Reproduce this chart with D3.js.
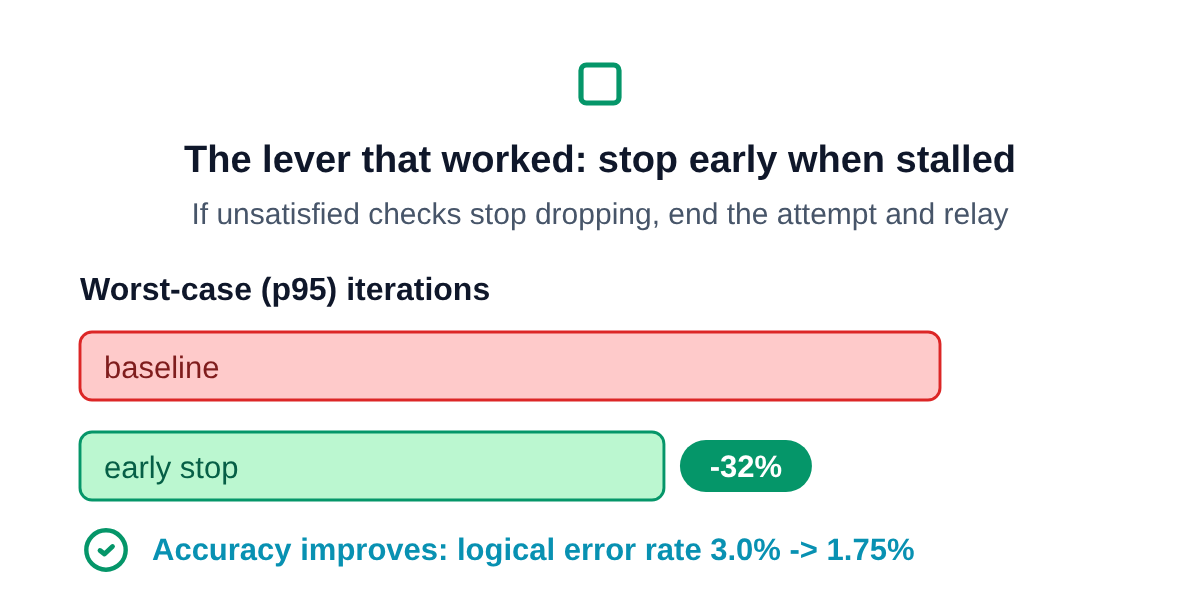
<!DOCTYPE html>
<html><head><meta charset="utf-8">
<script src="https://cdn.jsdelivr.net/npm/d3@7/dist/d3.min.js"></script>
<style>html,body{margin:0;padding:0;background:#fff}svg{display:block;will-change:transform}text{font-family:"Liberation Sans",Arial,sans-serif;text-rendering:geometricPrecision}</style>
</head><body><svg id="c" width="1200" height="608"></svg>
<script>
const categories = ["baseline", "early stop"];
const values = [100, 67.9];
const titleText = "The lever that worked: stop early when stalled";
const subtitleText = "If unsatisfied checks stop dropping, end the attempt and relay";
const sectionText = "Worst-case (p95) iterations";
const badgeText = "-32%";
const noteText = "Accuracy improves: logical error rate 3.0% -> 1.75%";
const fills = ["#fecaca", "#bbf7d0"];
const strokes = ["#dc2626", "#059669"];
const labelColors = ["#7f1d1d", "#065f46"];

const svg = d3.select("#c");
const x = d3.scaleLinear().domain([0, 100]).range([80, 940]);
const y = d3.scalePoint().domain(categories).range([332, 432]);
const barH = 68;

svg.append("rect").attr("x",581).attr("y",65).attr("width",38).attr("height",38).attr("rx",5.5)
  .attr("fill","none").attr("stroke","#059669").attr("stroke-width",5.2);

svg.append("text").attr("x",600).attr("y",172).attr("text-anchor","middle")
  .attr("font-size",38).attr("font-weight",700).attr("fill","#0f172a").text(titleText);
svg.append("text").attr("x",600).attr("y",224).attr("text-anchor","middle")
  .attr("font-size",30).attr("fill","#475569").text(subtitleText);
svg.append("text").attr("x",80).attr("y",300).attr("font-size",32).attr("font-weight",700)
  .attr("fill","#0f172a").text(sectionText);

svg.selectAll("rect.bar").data(categories).join("rect").attr("class","bar")
  .attr("x",x(0)).attr("y",d=>y(d)).attr("width",(d,i)=>x(values[i])-x(0)).attr("height",barH)
  .attr("rx",12).attr("fill",(d,i)=>fills[i]).attr("stroke",(d,i)=>strokes[i]).attr("stroke-width",2.9);
svg.selectAll("text.lab").data(categories).join("text").attr("class","lab")
  .attr("x",104).attr("y",d=>y(d)+46).attr("font-size",31).attr("fill",(d,i)=>labelColors[i]).text(d=>d);

const bx = x(values[1]) + 16;
svg.append("rect").attr("x",bx).attr("y",440).attr("width",132).attr("height",52).attr("rx",26).attr("fill","#059669");
svg.append("text").attr("x",bx+66).attr("y",477).attr("text-anchor","middle").attr("font-size",31)
  .attr("font-weight",700).attr("fill","#fff").text(badgeText);

svg.append("circle").attr("cx",106).attr("cy",550).attr("r",19.7).attr("fill","none").attr("stroke","#059669").attr("stroke-width",4.4);
svg.append("path").attr("d",d3.line()([[100,550.5],[104.5,554],[112.5,546.5]])).attr("fill","none")
  .attr("stroke","#059669").attr("stroke-width",4.8).attr("stroke-linecap","round").attr("stroke-linejoin","round");
svg.append("text").attr("x",152).attr("y",560).attr("font-size",31).attr("font-weight",700).attr("fill","#0891b2").text(noteText);
</script></body></html>
